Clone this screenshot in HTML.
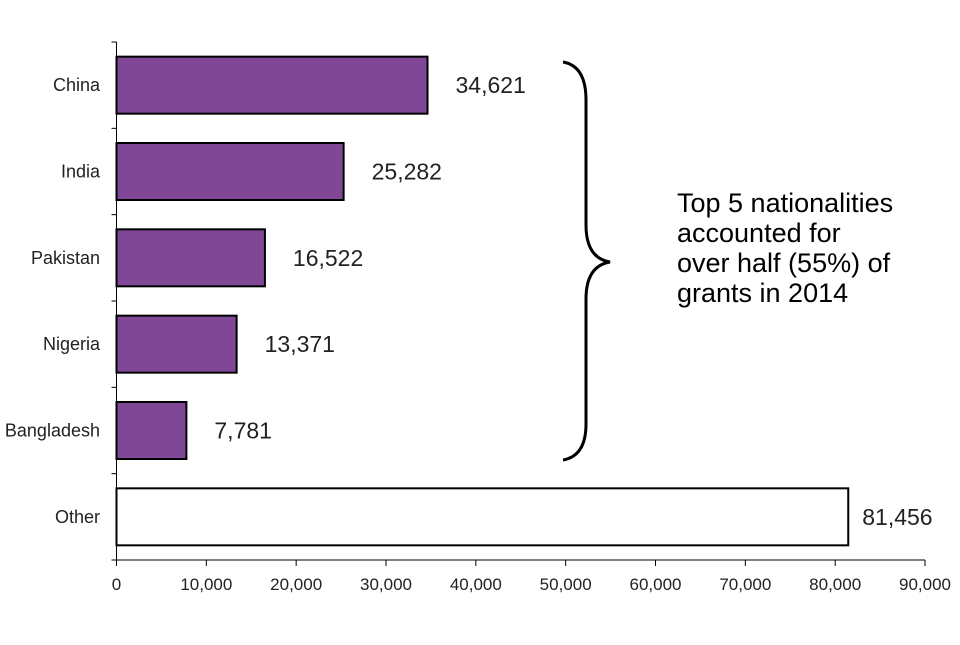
<!DOCTYPE html>
<html><head><meta charset="utf-8"><style>
body{margin:0;background:#fff;font-family:"Liberation Sans",Arial,sans-serif}
</style></head><body>
<svg width="960" height="640" id="c" font-family="Liberation Sans, Arial, sans-serif"></svg>
<script>
const categories=["China","India","Pakistan","Nigeria","Bangladesh","Other"];
const values=[34621,25282,16522,13371,7781,81456];
const labels=["34,621","25,282","16,522","13,371","7,781","81,456"];
const xTicks=[0,10000,20000,30000,40000,50000,60000,70000,80000,90000];
const NS="http://www.w3.org/2000/svg";
const svg=document.getElementById('c');
const x0=116.5,x1=925,yTop=42,yBot=560;
const band=(yBot-yTop)/categories.length;
const xs=v=>x0+(v/90000)*(x1-x0);
function mk(t,a,p){const e=document.createElementNS(NS,t);for(const k in a)e.setAttribute(k,a[k]);(p||svg).appendChild(e);return e;}
let ax=mk('line',{x1:x0,y1:yTop,x2:x0,y2:yBot,stroke:'#000','stroke-width':1});


let bx=mk('line',{x1:x0,y1:yBot,x2:x1,y2:yBot,stroke:'#000','stroke-width':1});


for(let i=0;i<=categories.length;i++){const y=yTop+i*band;mk('line',{x1:x0-5,y1:y,x2:x0,y2:y,stroke:'#000'});}
xTicks.forEach(v=>{const x=xs(v);mk('line',{x1:x,y1:yBot,x2:x,y2:yBot+6,stroke:'#000'});
const t=mk('text',{x:x,y:yBot+30,'text-anchor':'middle','font-size':17,fill:'#222'});t.textContent=v.toLocaleString('en-US');

});
categories.forEach((c,i)=>{const yc=yTop+i*band+band/2;
const r=mk('rect',{x:x0,y:yc-28.5,width:xs(values[i])-x0,height:57,fill:i<5?'#7f4796':'#fff',stroke:'#000','stroke-width':2});


const t=mk('text',{x:100,y:yc+6,'text-anchor':'end','font-size':18,fill:'#222'});t.textContent=c;


const v=mk('text',{x:xs(values[i])+(i<5?28:14),y:yc+8,'font-size':23,fill:'#222'});v.textContent=labels[i];

});
const br=mk('path',{d:'M563,62 Q586,66 586,100 L586,225 Q586,258 610,262 Q586,266 586,299 L586,424 Q586,456 563,460',fill:'none',stroke:'#000','stroke-width':3});


const ann=mk('text',{x:677,'font-size':27,fill:'#000'});


["Top 5 nationalities","accounted for","over half (55%) of","grants in 2014"].forEach((l,i)=>{const s=mk('tspan',{x:677,y:212+i*30},ann);s.textContent=l;});
</script>
</body></html>
